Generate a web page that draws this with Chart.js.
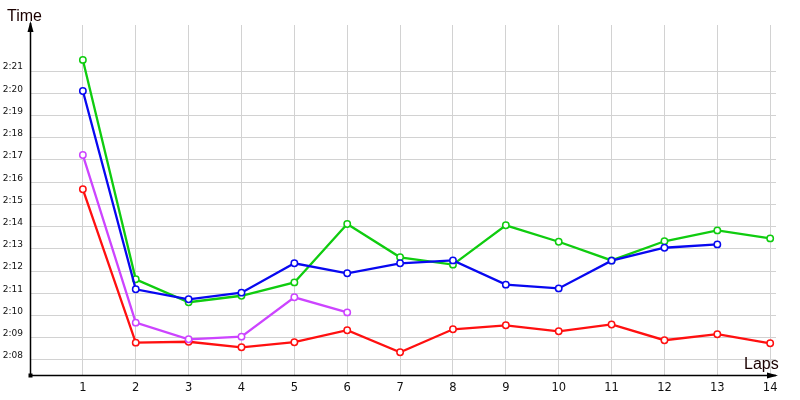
<!DOCTYPE html>
<html>
<head>
<meta charset="utf-8">
<script src="https://cdn.jsdelivr.net/npm/chart.js@4/dist/chart.umd.min.js"></script>
<style>
html,body{margin:0;padding:0;background:#fff;}
#wrap{width:800px;height:400px;position:relative;}
</style>
</head>
<body>
<div id="wrap"><canvas id="c" width="800" height="400"></canvas></div>
<script>
// ---- data ----
const laps = [1,2,3,4,5,6,7,8,9,10,11,12,13,14];
// lap times in seconds (2:08 = 128)
const greenTimes  = [141.5,131.63,130.6,130.89,131.49,134.12,132.62,132.29,134.06,133.32,132.48,133.34,133.83,133.47];
const blueTimes   = [140.1,131.18,130.73,131.03,132.35,131.9,132.35,132.48,131.39,131.22,132.47,133.05,133.2];
const purpleTimes = [137.22,129.68,128.93,129.05,130.82,130.14];
const redTimes    = [135.68,128.78,128.82,128.57,128.8,129.34,128.35,129.38,129.56,129.29,129.6,128.89,129.16,128.75];
const yTickValues = [128,129,130,131,132,133,134,135,136,137,138,139,140,141];
const yAxisTitle = 'Time';
const xAxisTitle = 'Laps';

function fmt(sec){
  const m = Math.floor(sec/60);
  const s = Math.round(sec - m*60);
  return m + ':' + (s<10?'0':'') + s;
}
function pts(arr){ return arr.map((v,i)=>({x:laps[i], y:v})); }

function ds(label, arr, color, order){
  return {
    label, data: pts(arr), borderColor: color, backgroundColor:'#fff',
    borderWidth: 2.3, pointRadius: 3.2, pointBorderWidth: 1.5,
    pointBackgroundColor:'#fff', pointBorderColor: color,
    tension: 0, order
  };
}

const axesPlugin = {
  id:'axesArrows',
  afterDraw(chart){
    const {ctx, chartArea:a} = chart;
    ctx.save();
    ctx.strokeStyle = '#000';
    ctx.fillStyle = '#000';
    ctx.lineWidth = 1.5;
    const x0 = a.left + 0.5, y0 = a.bottom + 0.5;
    // y axis
    ctx.beginPath(); ctx.moveTo(x0, y0); ctx.lineTo(x0, a.top - 2); ctx.stroke();
    ctx.beginPath(); ctx.moveTo(x0, a.top - 4); ctx.lineTo(x0 - 3, a.top + 7); ctx.lineTo(x0 + 3, a.top + 7); ctx.closePath(); ctx.fill();
    // x axis
    ctx.beginPath(); ctx.moveTo(x0, y0); ctx.lineTo(a.right, y0); ctx.stroke();
    ctx.beginPath(); ctx.moveTo(a.right + 2, y0); ctx.lineTo(a.right - 9, y0 - 3); ctx.lineTo(a.right - 9, y0 + 3); ctx.closePath(); ctx.fill();
    // origin square
    ctx.fillRect(x0 - 2, y0 - 2, 4, 4);
    // titles
    ctx.font = '16px "Liberation Sans", Arial, sans-serif';
    ctx.fillStyle = '#1a0000';
    ctx.textBaseline = 'alphabetic';
    ctx.textAlign = 'left';
    ctx.fillText(yAxisTitle, 7, 21);
    ctx.fillText(xAxisTitle, 744, 369);
    ctx.restore();
  }
};

new Chart(document.getElementById('c'), {
  type: 'line',
  data: {
    datasets: [
      ds('Green', greenTimes, '#0fcc0f', 4),
      ds('Blue', blueTimes, '#0808f0', 1),
      ds('Red', redTimes, '#ff1010', 3),
      ds('Purple', purpleTimes, '#cc44ff', 2)
    ]
  },
  options: {
    responsive: false,
    animation: false,
    events: [],
    layout: { padding: { left: 0, top: 25, right: 24, bottom: 0 } },
    plugins: { legend: { display: false }, tooltip: { enabled: false } },
    scales: {
      x: {
        type: 'linear', min: 0, max: 14.11,
        afterBuildTicks(scale){ scale.ticks = laps.map(v=>({value:v})); },
        afterFit(scale){ scale.height = 25; },
        grid: { color:'#d2d2d2', lineWidth:1, drawTicks:false },
        border: { display:false },
        ticks: { padding: 6, color:'#111', font:{ family:'"DejaVu Sans", sans-serif', size:11.5 }, autoSkip:false, maxRotation:0,
          callback(v){ return String(v); } }
      },
      y: {
        type: 'linear', min: 127.325, max: 143.07,
        afterBuildTicks(scale){ scale.ticks = yTickValues.map(v=>({value:v})); },
        afterFit(scale){ scale.width = 30; },
        grid: { color:'#d2d2d2', lineWidth:1, drawTicks:false },
        border: { display:false },
        ticks: { padding: 7, labelOffset: -4, color:'#111', font:{ family:'"DejaVu Sans", sans-serif', size:9 }, autoSkip:false,
          callback(v){ return fmt(v); } }
      }
    }
  },
  plugins: [axesPlugin]
});
</script>
</body>
</html>
